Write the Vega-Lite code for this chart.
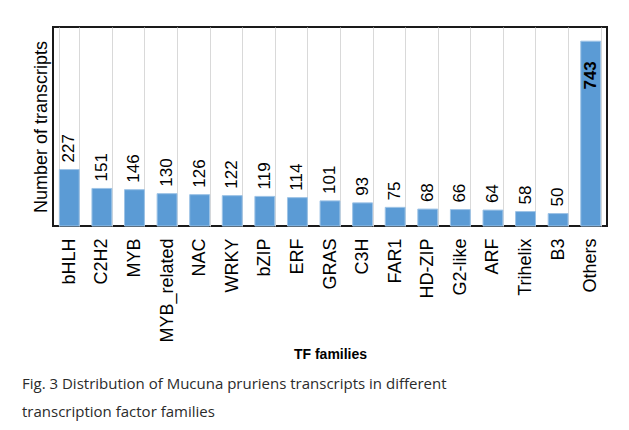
{
  "$schema": "https://vega.github.io/schema/vega-lite/v6.json",
  "width": 554,
  "height": 199,
  "autosize": {"type": "none"},
  "padding": {"left": 53, "top": 27, "right": 22, "bottom": 204},
  "background": "white",
  "config": {
    "view": {"stroke": "#1a1a1a", "strokeWidth": 2},
    "font": "Liberation Sans"
  },
  "title": {
    "text": ["Fig. 3 Distribution of Mucuna pruriens transcripts in different", "transcription factor families"],
    "orient": "bottom",
    "anchor": "start",
    "frame": "group",
    "dx": -31,
    "offset": 16,
    "font": "Open Sans",
    "fontSize": 15,
    "fontWeight": "normal",
    "color": "#2b2b2b",
    "lineHeight": 28
  },
  "data": {
    "values": [
      {"family": "bHLH", "count": 227},
      {"family": "C2H2", "count": 151},
      {"family": "MYB", "count": 146},
      {"family": "MYB_related", "count": 130},
      {"family": "NAC", "count": 126},
      {"family": "WRKY", "count": 122},
      {"family": "bZIP", "count": 119},
      {"family": "ERF", "count": 114},
      {"family": "GRAS", "count": 101},
      {"family": "C3H", "count": 93},
      {"family": "FAR1", "count": 75},
      {"family": "HD-ZIP", "count": 68},
      {"family": "G2-like", "count": 66},
      {"family": "ARF", "count": 64},
      {"family": "Trihelix", "count": 58},
      {"family": "B3", "count": 50},
      {"family": "Others", "count": 743}
    ]
  },
  "encoding": {
    "x": {
      "field": "family",
      "type": "nominal",
      "sort": null,
      "scale": {"paddingInner": 0.39},
      "axis": {
        "title": "TF families",
        "titleFontSize": 14,
        "titleFontWeight": "bold",
        "titleColor": "#000000",
        "titlePadding": 5,
        "labelAngle": -90,
        "labelAlign": "right",
        "labelBaseline": "middle",
        "labelPadding": 12,
        "labelFontSize": 18,
        "labelColor": "#000000",
        "ticks": false,
        "domain": false,
        "grid": true,
        "gridColor": "#d9d9d9",
        "gridWidth": 1,
        "tickBand": "extent"
      }
    },
    "y": {
      "field": "count",
      "type": "quantitative",
      "scale": {"domain": [0, 800]},
      "axis": {
        "title": "Number of transcripts",
        "titleFontSize": 18,
        "titleFontWeight": "normal",
        "titleColor": "#000000",
        "titlePadding": 3,
        "labels": false,
        "ticks": false,
        "domain": false,
        "grid": false
      }
    }
  },
  "layer": [
    {
      "mark": {"type": "bar", "color": "#5B9BD5", "stroke": "#9DC3E6", "strokeWidth": 1}
    },
    {
      "transform": [{"filter": "datum.count < 700"}],
      "mark": {"type": "text", "angle": 270, "align": "left", "baseline": "middle", "dx": 7, "fontSize": 17, "color": "#000000"},
      "encoding": {"text": {"field": "count", "type": "quantitative"}}
    },
    {
      "transform": [{"filter": "datum.count >= 700"}],
      "mark": {"type": "text", "angle": 270, "align": "right", "baseline": "middle", "dx": -20, "fontSize": 17, "fontWeight": "bold", "color": "#000000"},
      "encoding": {"text": {"field": "count", "type": "quantitative"}}
    }
  ]
}
